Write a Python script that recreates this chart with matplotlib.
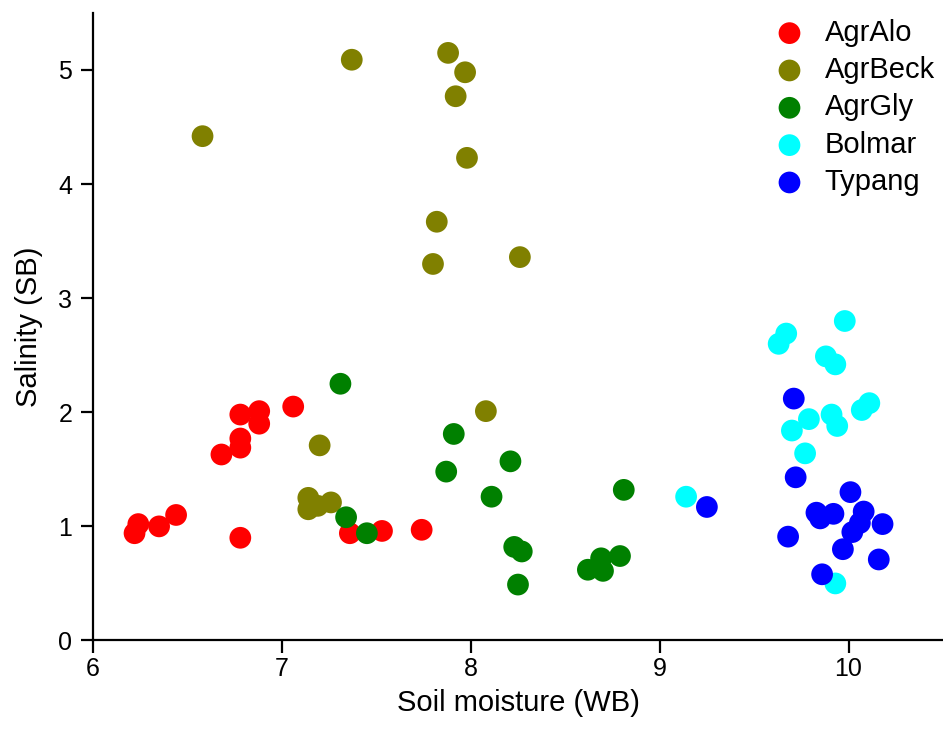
import matplotlib
matplotlib.use('Agg')
import matplotlib.pyplot as plt
import numpy as np

plt.rcParams['font.family'] = ['Liberation Sans', 'DejaVu Sans']

# data
agralo_x = [6.22, 6.24, 6.35, 6.44, 6.68, 6.78, 6.78, 6.78, 6.88, 6.88, 7.06, 6.78, 7.36, 7.53, 7.74]
agralo_y = [0.94, 1.02, 1.00, 1.10, 1.63, 1.69, 1.77, 1.98, 2.01, 1.90, 2.05, 0.90, 0.94, 0.96, 0.97]

agrbeck_x = [6.58, 7.37, 7.88, 7.97, 7.92, 7.98, 7.82, 7.80, 8.26, 8.08, 7.20, 7.14, 7.14, 7.19, 7.26]
agrbeck_y = [4.42, 5.09, 5.15, 4.98, 4.77, 4.23, 3.67, 3.30, 3.36, 2.01, 1.71, 1.25, 1.15, 1.18, 1.21]

agrgly_x = [7.31, 7.34, 7.45, 7.91, 7.87, 8.21, 8.11, 8.23, 8.27, 8.25, 8.81, 8.62, 8.69, 8.70, 8.79]
agrgly_y = [2.25, 1.08, 0.94, 1.81, 1.48, 1.57, 1.26, 0.82, 0.78, 0.49, 1.32, 0.62, 0.72, 0.61, 0.74]

bolmar_x = [9.98, 9.67, 9.63, 9.88, 9.93, 10.11, 10.07, 9.91, 9.94, 9.79, 9.70, 9.77, 9.14, 9.93]
bolmar_y = [2.80, 2.69, 2.60, 2.49, 2.42, 2.08, 2.02, 1.98, 1.88, 1.94, 1.84, 1.64, 1.26, 0.50]

typang_x = [9.71, 9.72, 9.25, 10.01, 9.83, 9.85, 9.92, 10.08, 10.06, 10.02, 10.18, 9.68, 9.97, 10.16, 9.86]
typang_y = [2.12, 1.43, 1.17, 1.30, 1.12, 1.07, 1.11, 1.13, 1.03, 0.95, 1.02, 0.91, 0.80, 0.71, 0.58]

groups = [
  ('AgrAlo' , agralo_x , agralo_y , '#ff0000'),
  ('AgrBeck', agrbeck_x, agrbeck_y, '#808000'),
  ('AgrGly' , agrgly_x , agrgly_y , '#008000'),
  ('Bolmar' , bolmar_x , bolmar_y , '#00ffff'),
  ('Typang' , typang_x , typang_y , '#0000ff'),
]

fig = plt.figure(figsize=(9.43, 7.4), dpi=100)
ax = fig.add_axes([0.0986, 0.1345, 0.9014, 0.848])

for name, xs, ys, col in groups:
  ax.scatter(xs, ys, s=245, color=col, edgecolors='none', label=name, zorder=3)

ax.set_xlim(6, 10.5)
ax.set_ylim(0, 5.5)
ax.set_xticks([6, 7, 8, 9, 10])
ax.set_yticks([0, 1, 2, 3, 4, 5])

ax.spines['top'].set_visible(False)
ax.spines['right'].set_visible(False)
for sp in ['left', 'bottom']:
  ax.spines[sp].set_linewidth(1.6)
ax.tick_params(direction='out', length=9, width=1.6, labelsize=18)
ax.tick_params(axis='x', pad=3)
ax.tick_params(axis='y', pad=6)

ax.set_xlabel('Soil moisture (WB)', fontsize=21, labelpad=6)
ax.set_ylabel('Salinity (SB)', fontsize=21, labelpad=11)

ax.legend(loc='upper right', bbox_to_anchor=(0.997, 1.0), frameon=False, fontsize=21,
          handletextpad=0.2, labelspacing=0.32, borderaxespad=0.0, borderpad=0.2,
          markerscale=1.0)

fig.savefig('out.png', dpi=100)
